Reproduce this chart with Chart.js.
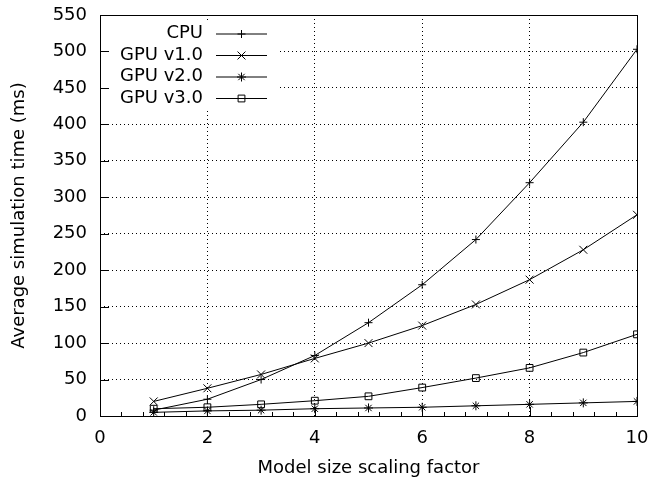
<!DOCTYPE html>
<html>
<head>
<meta charset="utf-8">
<script src="https://cdn.jsdelivr.net/npm/chart.js@4/dist/chart.umd.min.js"></script>
<style>
    html, body { margin: 0; padding: 0; background: #fff; }
    #wrap { width: 651px; height: 482px; }
</style>
</head>
<body>
<div id="wrap"><canvas id="myChart"></canvas></div>
<script>
// data
const scaleFactors = [1, 2, 3, 4, 5, 6, 7, 8, 9, 10];
const cpuTimes   = [8, 23, 50, 83, 128, 180, 242, 320, 403, 503];
const gpuV1Times = [20, 38, 57, 79, 100, 124, 153, 187, 228, 276];
const gpuV2Times = [5, 7, 8, 10, 11, 12, 14, 16, 18, 20];
const gpuV3Times = [10, 12, 16, 21, 27, 39, 52, 66, 87, 112];
const seriesNames = ["CPU", "GPU v1.0", "GPU v2.0", "GPU v3.0"];
const xTicks = [0, 2, 4, 6, 8, 10];
const yTicks = [0, 50, 100, 150, 200, 250, 300, 350, 400, 450, 500, 550];

const FONT = "'DejaVu Sans', sans-serif";

function toPoints(ys) {
    return scaleFactors.map(function (x, i) { return { x: x, y: ys[i] }; });
}

function makeSet(label, ys, style, radius) {
    return {
        label: label,
        data: toPoints(ys),
        borderColor: '#000',
        borderWidth: 1,
        pointStyle: style,
        pointRadius: radius,
        pointHoverRadius: radius,
        pointBorderColor: '#000',
        pointBorderWidth: 1,
        pointBackgroundColor: 'rgba(0,0,0,0)',
        tension: 0,
        fill: false
    };
}

// own marker drawing for the legend (same shapes as chart.js)
function marker(ctx, style, r, x, y) {
    ctx.beginPath();
    if (style === 'cross' || style === 'star') {
        ctx.moveTo(x - r, y); ctx.lineTo(x + r, y);
        ctx.moveTo(x, y - r); ctx.lineTo(x, y + r);
    }
    if (style === 'crossRot' || style === 'star') {
        let d = r * Math.SQRT1_2;
        ctx.moveTo(x - d, y - d); ctx.lineTo(x + d, y + d);
        ctx.moveTo(x - d, y + d); ctx.lineTo(x + d, y - d);
    }
    if (style === 'rect') {
        let s = r * Math.SQRT1_2;
        ctx.rect(x - s, y - s, 2 * s, 2 * s);
    }
    ctx.stroke();
}

// gnuplot like key, white box behind it
const keyPlugin = {
    id: 'key',
    afterDatasetsDraw(chart) {
        const ctx = chart.ctx;
        ctx.save();
        ctx.fillStyle = '#fff';
        ctx.fillRect(104, 22, 173, 86);
        ctx.font = '18px ' + FONT;
        ctx.textAlign = 'right';
        ctx.textBaseline = 'middle';
        ctx.strokeStyle = '#000';
        ctx.lineWidth = 1;
        const rows = [33.5, 55, 76.5, 98];
        chart.data.datasets.forEach(function (ds, i) {
            let y = rows[i];
            ctx.fillStyle = '#000';
            ctx.fillText(ds.label, 203, y);
            ctx.beginPath();
            ctx.moveTo(216, y + 0.5); ctx.lineTo(267, y + 0.5);
            ctx.stroke();
            marker(ctx, ds.pointStyle, ds.pointRadius, 241.5, y + 0.5);
        });
        ctx.restore();
    }
};

// border box and inward tics
const ticsPlugin = {
    id: 'tics',
    afterDraw(chart) {
        const ctx = chart.ctx;
        const a = chart.chartArea;
        const xs = chart.scales.x, ys = chart.scales.y;
        ctx.save();
        ctx.strokeStyle = '#000';
        ctx.lineWidth = 1;
        ctx.beginPath();
        // major y
        yTicks.forEach(function (v) {
            let py = Math.round(ys.getPixelForValue(v)) + 0.5;
            ctx.moveTo(a.left, py); ctx.lineTo(a.left + 9, py);
        });
        // major x
        xTicks.forEach(function (v) {
            let px = Math.round(xs.getPixelForValue(v)) + 0.5;
            ctx.moveTo(px, a.bottom); ctx.lineTo(px, a.bottom - 9);
        });
        // minor x, every 0.4
        for (let k = 1; k < 25; k++) {
            if (k % 5 === 0) continue;
            let px = Math.round(xs.getPixelForValue(k * 0.4)) + 0.5;
            ctx.moveTo(px, a.bottom); ctx.lineTo(px, a.bottom - 4);
        }
        ctx.stroke();
        ctx.strokeRect(Math.round(a.left) + 0.5, Math.round(a.top) + 0.5,
            Math.round(a.right - a.left), Math.round(a.bottom - a.top));
        ctx.restore();
    }
};

let popCanvas = document.getElementById("myChart").getContext("2d");
let lineChart = new Chart(popCanvas, {
    type: 'line',
    data: {
        datasets: [
            makeSet(seriesNames[0], cpuTimes, 'cross', 4),
            makeSet(seriesNames[1], gpuV1Times, 'crossRot', 5.6),
            makeSet(seriesNames[2], gpuV2Times, 'star', 4.5),
            makeSet(seriesNames[3], gpuV3Times, 'rect', 4.8)
        ]
    },
    options: {
        responsive: true,
        maintainAspectRatio: false,
        animation: false,
        events: [],
        layout: { padding: { left: 0, right: 14, top: 15, bottom: 0 } },
        plugins: {
            legend: { display: false },
            tooltip: { enabled: false }
        },
        scales: {
            x: {
                type: 'linear',
                min: 0, max: 10,
                afterFit: function (s) { s.height = 66; s.paddingLeft = 0; s.paddingRight = 0; },
                afterBuildTicks: function (s) { s.ticks = xTicks.map(function (v) { return { value: v }; }); },
                grid: { color: '#000', lineWidth: 1, drawTicks: false },
                border: { display: false, dash: [1, 3] },
                ticks: { color: '#000', font: { family: FONT, size: 18 }, padding: 12, maxRotation: 0 },
                title: { display: true, text: 'Model size scaling factor', color: '#000',
                    font: { family: FONT, size: 18 }, padding: { top: 0, bottom: 3 } }
            },
            y: {
                min: 0, max: 550,
                afterFit: function (s) { s.width = 100; s.paddingTop = 0; s.paddingBottom = 0; },
                afterBuildTicks: function (s) { s.ticks = yTicks.map(function (v) { return { value: v }; }); },
                grid: { color: '#000', lineWidth: 1, drawTicks: false },
                border: { display: false, dash: [1, 3] },
                ticks: { color: '#000', font: { family: FONT, size: 18 }, padding: 13 },
                title: { display: true, text: 'Average simulation time (ms)', color: '#000',
                    font: { family: FONT, size: 18 }, padding: { top: 9, bottom: 0 } }
            }
        }
    },
    plugins: [keyPlugin, ticsPlugin]
});
</script>
</body>
</html>
